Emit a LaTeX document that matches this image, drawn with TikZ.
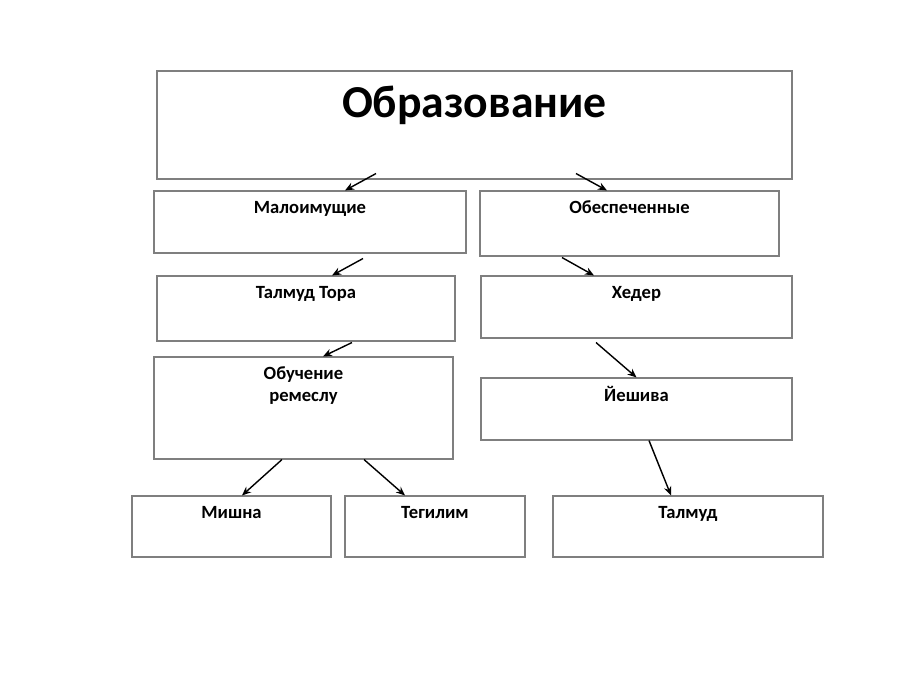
\documentclass[tikz,border=0pt]{standalone}
\usepackage{fontspec}
\setmainfont{Carlito}
\usepackage{tikz}
\usetikzlibrary{arrows.meta, positioning, calc}
\definecolor{edgec}{HTML}{7F7F7F}
\newcommand{\stage}[5]{%
  \node[box, minimum width=#3cm, minimum height=#4cm] (#1) at #2 {};
  \node[lbl, anchor=north] (#1-t) at ($(#1.north)+(0,-0.16)$) {\strut #5};
}

\begin{document}
\begin{tikzpicture}[>={Stealth[length=1.8mm, width=1.5mm]}, line width=0.8pt,
      box/.style={draw=edgec, line width=0.6pt, inner sep=0pt},
      lbl/.style={font=\fontsize{10.6}{12}\selectfont\bfseries, align=center,
                  inner sep=0pt}]
    \useasboundingbox (0,0) rectangle (18,13.5);
    % head box
    \node[box, minimum width=12.7cm, minimum height=2.16cm] (edu) at (9.49,11.0) {};
    \node[font=\fontsize{26}{30}\selectfont\bfseries, anchor=base, inner sep=0pt]
      (edu-t) at ($(edu.north)+(0,-0.94)$) {Образование};
    % left branch
    \stage{poor}{(6.2,9.06)}{6.24}{1.24}{Малоимущие}
    \stage{tora}{(6.12,7.33)}{5.96}{1.3}{Талмуд Тора}
    \stage{craft}{(6.07,5.34)}{5.98}{2.04}{Обучение\\ремеслу}
    \stage{mishna}{(4.63,2.97)}{3.98}{1.22}{Мишна}
    \stage{tegilim}{(8.7,2.97)}{3.6}{1.22}{Тегилим}
    % right branch
    \stage{rich}{(12.59,9.03)}{5.98}{1.3}{Обеспеченные}
    \stage{heder}{(12.73,7.36)}{6.22}{1.24}{Хедер}
    \stage{yeshiva}{(12.73,5.32)}{6.22}{1.24}{Йешива}
    \stage{talmud}{(13.76,2.97)}{5.4}{1.22}{Талмуд}
    % arrows
    \draw[->] ([xshift=-1.97cm, yshift=0.12cm]edu.south) -- ([xshift=0.7cm]poor.north);
    \draw[->] ([xshift=2.03cm, yshift=0.12cm]edu.south) -- ([xshift=-0.45cm]rich.north);
    \draw[->] ([xshift=1.06cm, yshift=-0.1cm]poor.south) -- ([xshift=0.52cm]tora.north);
    \draw[->] ([xshift=-1.35cm, yshift=-0.02cm]rich.south) -- ([xshift=-0.85cm]heder.north);
    \draw[->] ([xshift=0.92cm, yshift=-0.02cm]tora.south) -- ([xshift=0.39cm]craft.north);
    \draw[->] ([xshift=-0.81cm, yshift=-0.08cm]heder.south) -- (yeshiva.north);
    \draw[->] ([xshift=-0.43cm]craft.south) -- ([xshift=0.21cm]mishna.north);
    \draw[->] ([xshift=1.21cm]craft.south) -- ([xshift=-0.6cm]tegilim.north);
    \draw[->] ([xshift=0.25cm]yeshiva.south) -- ([xshift=-0.34cm]talmud.north);
  \end{tikzpicture}
\end{document}
